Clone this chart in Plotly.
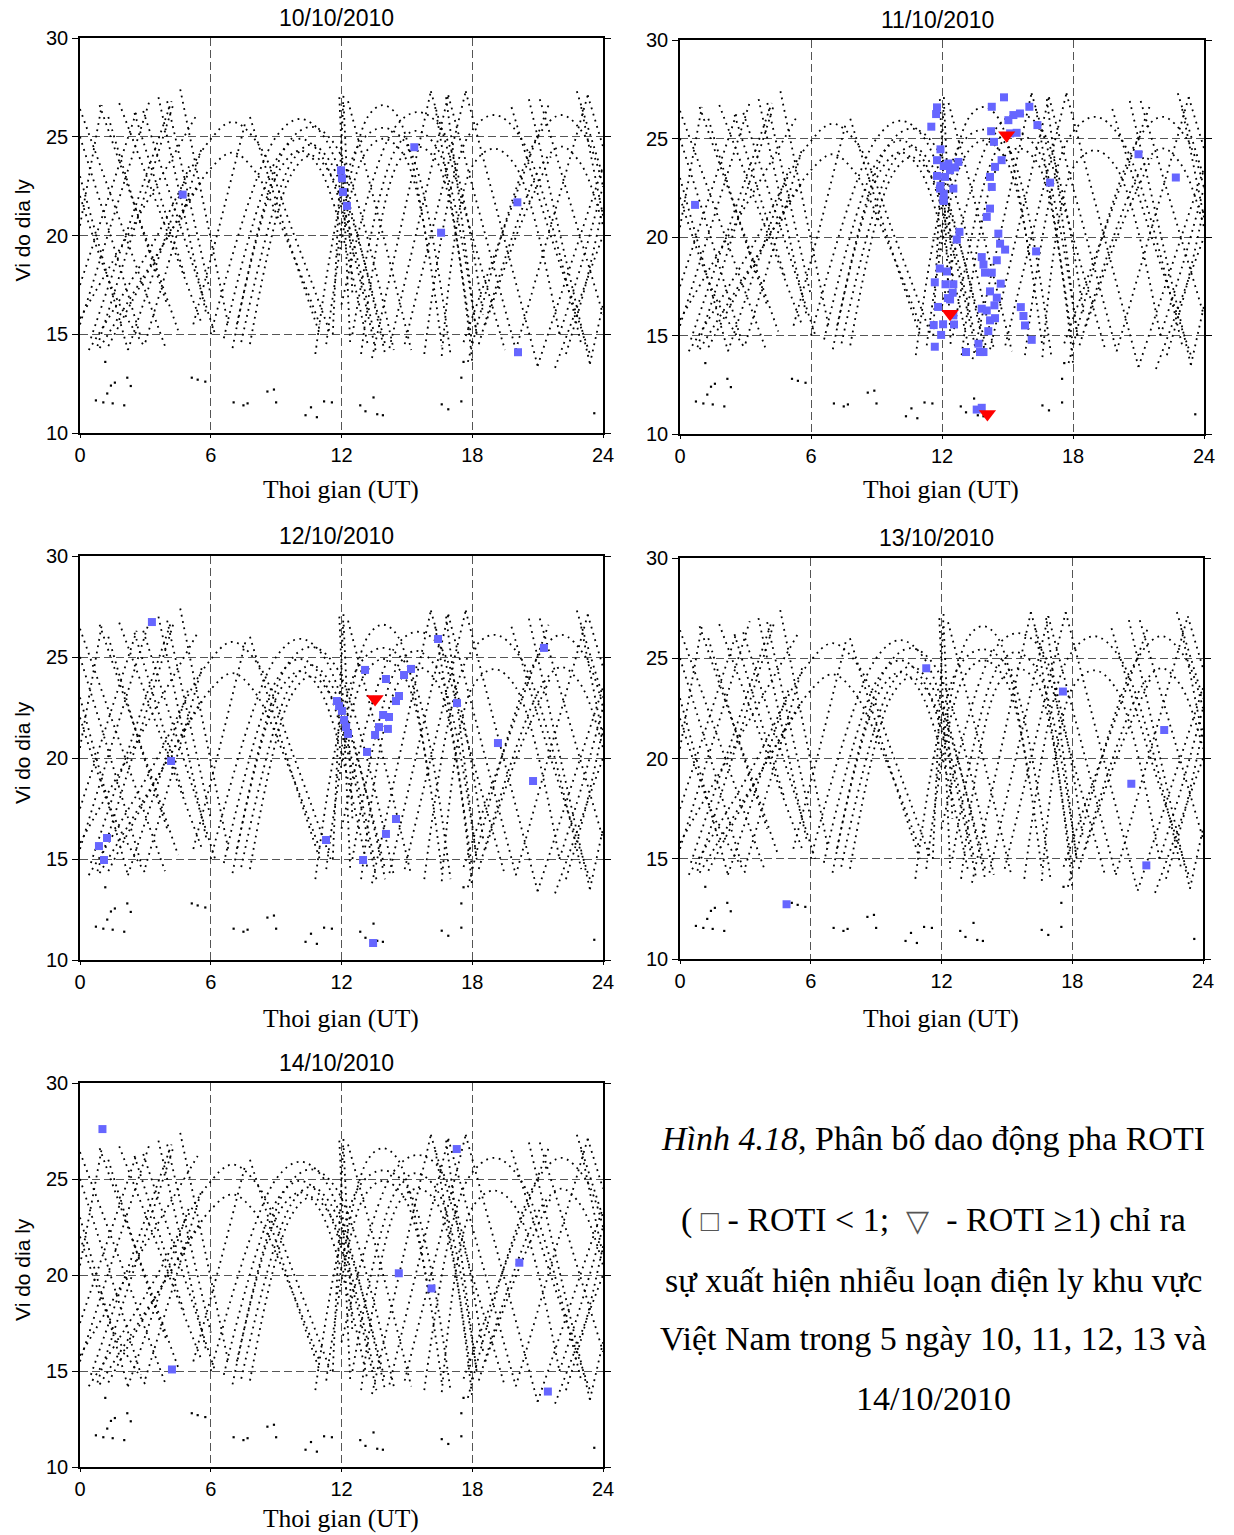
import plotly.graph_objects as go

# ---------------- data ----------------
DAYS = ["10/10/2010", "11/10/2010", "12/10/2010", "13/10/2010", "14/10/2010"]
HOUR_TICKS = [0, 6, 12, 18, 24]
TOP_TICKS = [6, 12, 18]
LAT_TICKS = [10, 15, 20, 25, 30]

# satellite pierce-point tracks (control points), same geometry every day
TRACK_T = [
    [0.4, 3.2, 5.8, 7.0, 8.2, 9.8, 11.5],
    [1.3, 3.8, 6.0, 7.0, 8.0, 9.6, 11.0],
    [6.0, 9.0, 10.1, 11.2, 14.0],
    [7.0, 9.5, 10.6, 11.7, 14.4],
    [6.6, 9.1, 10.1, 11.1, 13.6],
    [7.4, 9.7, 10.6, 11.5, 14.0],
    [7.2, 9.2, 10.1, 11.0, 13.2],
    [7.8, 9.7, 10.6, 11.5, 13.5],
    [11.8, 13.2, 13.9, 14.6, 16.0],
    [10.8, 12.8, 13.9, 15.0, 17.0],
    [11.3, 13.0, 13.9, 14.9, 16.6],
    [12.0, 14.4, 15.5, 16.6, 18.5],
    [12.5, 14.5, 15.4, 16.4, 18.2],
    [12.9, 14.6, 15.5, 16.4, 18.0],
    [15.8, 17.8, 19.0, 20.2, 23.0],
    [16.6, 18.0, 19.0, 20.0, 22.0],
    [17.8, 21.0, 22.1, 23.2, 24.0],
    [18.3, 21.2, 22.1, 23.0, 24.0],
    [0.0, 1.0], [0.0, 2.6], [0.8, 4.3], [2.2, 5.0], [0.0, 3.9], [0.9, 4.5],
    [1.8, 5.6], [0.0, 2.2], [2.5, 4.8], [3.6, 5.8], [4.0, 6.0], [4.6, 6.8],
    [0.0, 3.2],
    [0.0, 2.6, 5.4], [0.9, 3.4, 5.6], [1.3, 2.8, 4.0], [0.0, 1.6, 3.0],
    [0.0, 1.4, 2.8], [0.5, 2.4, 4.2], [3.0, 4.3, 5.6], [2.9, 4.6, 6.2],
    [7.8, 9.5, 11.0], [5.2, 6.4, 7.6],
    [11.6, 12.1], [11.9, 12.4], [12.1, 12.5],
    [13.4, 16.1], [14.2, 16.9], [14.9, 17.7], [12.3, 13.8, 15.2],
    [16.3, 17.2, 18.0], [16.8, 17.5, 18.2],
    [20.0, 23.3], [21.0, 24.0], [21.8, 24.0], [20.6, 23.4], [21.1, 24.0],
    [22.8, 24.0], [23.4, 24.0], [17.7, 21.0], [16.9, 20.0], [16.1, 19.5],
    [17.6, 19.5, 21.5], [18.6, 20.2, 21.6], [22.3, 23.2, 24.0], [23.0, 24.0],
    [19.8, 21.6, 23.4], [22.0, 23.0, 24.0], [23.3, 24.0],
]
TRACK_LAT = [
    [14.2, 19.3, 24.6, 25.75, 24.6, 20.1, 15.0],
    [14.4, 19.5, 23.4, 24.2, 23.3, 19.5, 15.5],
    [15.0, 25.0, 25.9, 25.0, 14.0],
    [14.3, 24.6, 25.5, 24.6, 14.2],
    [14.8, 24.0, 24.9, 24.0, 14.0],
    [14.6, 23.7, 24.6, 23.7, 14.5],
    [15.5, 23.4, 24.3, 23.4, 14.5],
    [14.5, 23.1, 24.05, 23.1, 15.0],
    [19.0, 26.0, 26.6, 26.0, 19.0],
    [14.0, 24.6, 25.45, 24.6, 14.0],
    [14.5, 24.0, 24.9, 24.0, 14.4],
    [16.5, 25.4, 26.25, 25.4, 16.0],
    [15.0, 24.4, 25.3, 24.4, 15.0],
    [14.0, 23.7, 24.5, 23.7, 13.6],
    [14.0, 25.0, 26.1, 25.0, 14.5],
    [13.9, 23.5, 24.4, 23.5, 15.0],
    [13.6, 25.0, 26.1, 25.0, 22.5],
    [14.5, 23.6, 24.5, 23.6, 20.5],
    [20.5, 26.6], [17.5, 26.3], [14.4, 26.7], [14.2, 23.5], [26.4, 14.4], [26.6, 15.2],
    [26.7, 15.5], [23.0, 14.2], [26.2, 18.0], [27.0, 16.0], [26.8, 17.0], [27.4, 15.5],
    [15.5, 26.85],
    [15.8, 20.8, 26.2], [14.3, 18.8, 22.8], [26.0, 20.5, 16.5], [22.0, 17.0, 14.3],
    [25.0, 20.0, 14.8], [14.8, 21.0, 26.8], [14.6, 19.5, 24.5], [26.3, 20.5, 15.0],
    [26.0, 20.0, 15.0], [15.5, 20.5, 25.8],
    [15.0, 27.3], [27.0, 14.5], [26.6, 17.0],
    [13.8, 27.3], [14.3, 27.1], [14.5, 27.3], [26.8, 20.5, 14.2],
    [26.5, 20.5, 14.5], [27.0, 21.0, 15.0],
    [14.2, 27.1], [13.4, 23.5], [13.3, 20.0], [26.9, 13.5], [26.9, 16.0],
    [27.3, 23.0], [13.5, 16.5], [27.3, 13.4], [27.1, 14.2], [27.3, 14.2],
    [14.6, 20.5, 26.6], [15.5, 20.5, 24.0], [14.0, 17.5, 21.5], [26.5, 21.0],
    [26.5, 20.0, 14.0], [15.0, 18.5, 22.5], [27.1, 24.5],
]

# isolated low-latitude dots
FRAG_T = [0.73, 1.07, 1.42, 1.5, 2.03, 2.17, 1.16, 5.4, 5.75, 7.05, 7.5, 8.6, 8.9, 9.0,
          10.35, 10.6, 10.87, 11.2, 11.56, 12.86, 13.1, 13.47, 13.64, 13.9, 16.6, 16.9,
          17.5, 17.5, 17.6, 1.6, 1.25, 2.33, 5.13, 7.69, 23.6]
FRAG_LAT = [11.65, 11.55, 12.4, 11.5, 11.4, 12.8, 13.6, 12.7, 12.6, 11.55, 11.4, 12.1, 12.2, 11.55,
            10.9, 11.3, 10.8, 11.6, 11.55, 11.4, 11.1, 11.8, 10.95, 10.9, 11.45, 11.2,
            12.8, 11.6, 13.6, 12.55, 12.0, 12.38, 12.8, 11.5, 11.0]

# ROTI < 1 (squares) and ROTI >= 1 (triangles), per day
SQ_T_10 = [4.71, 11.98, 12.02, 12.07, 12.25, 15.34, 16.57, 20.07, 20.1]
SQ_LAT_10 = [22.07, 23.3, 22.9, 22.2, 21.5, 24.47, 20.14, 21.68, 14.09]
TR_T_10, TR_LAT_10 = [], []

SQ_T_11 = [0.69, 11.77, 11.73, 11.51, 11.93, 11.77, 12.08, 11.77, 11.93, 12.08, 12.08, 11.9, 12.23,
           11.67, 12.16, 12.27, 11.82, 11.62, 12.05, 11.96, 11.67, 12.29, 12.75, 12.6, 12.37, 12.14,
           12.52, 11.91, 12.06, 14.28, 14.84, 16.0, 16.37, 15.27, 15.57, 15.04, 15.12, 15.42, 14.25,
           14.38, 14.73, 14.43, 14.2, 14.28, 16.95, 14.2, 14.05, 12.8, 12.68, 14.58, 14.66, 14.89,
           16.31, 13.82, 13.9, 14.51, 13.97, 14.28, 14.69, 12.52, 12.49, 14.2, 14.51, 12.37, 13.82,
           14.05, 14.4, 14.43, 14.2, 14.12, 12.52, 12.55, 15.61, 15.73, 15.8, 16.11, 13.67, 13.74,
           13.1, 13.9, 13.59, 13.82, 21.0, 22.71]
SQ_LAT_11 = [21.63, 26.58, 26.24, 25.6, 24.45, 23.9, 23.6, 23.1, 22.6, 22.2, 21.83, 18.4, 18.25,
             17.7, 17.6, 16.9, 16.45, 15.53, 15.57, 15.03, 14.43, 23.73, 23.81, 23.53, 23.39, 23.05,
             22.46, 22.46, 21.87, 26.61, 27.09, 26.61, 25.68, 26.19, 26.27, 25.93, 25.26, 25.29, 25.37,
             24.83, 23.9, 23.56, 23.05, 22.54, 22.76, 21.44, 21.02, 20.26, 19.87, 20.17, 19.66, 19.36,
             19.27, 18.98, 18.6, 18.82, 18.19, 18.19, 17.63, 17.6, 17.17, 17.24, 16.92, 16.83, 16.36,
             16.27, 16.53, 15.88, 15.77, 15.22, 16.02, 15.56, 16.44, 15.99, 15.51, 14.78, 14.58, 14.16,
             14.16, 14.16, 11.24, 11.33, 24.2, 23.02]
TR_T_11 = [12.37, 14.96, 14.08]
TR_LAT_11 = [16.11, 25.17, 11.02]

SQ_T_12 = [3.30, 0.87, 1.24, 1.10, 4.18, 11.29, 11.79, 11.89, 12.02, 12.12, 12.21, 12.3, 13.08,
           13.17, 12.99, 13.45, 13.54, 13.72, 13.91, 14.04, 14.18, 14.13, 14.04, 14.5, 14.5, 14.64,
           14.87, 15.19, 16.43, 17.3, 19.18, 20.79, 21.29]
SQ_LAT_12 = [26.73, 15.64, 16.04, 14.95, 19.85, 15.94, 22.82, 22.57, 22.33, 21.88, 21.53, 21.19, 24.36,
             20.3, 14.95, 10.84, 21.14, 21.53, 22.13, 23.91, 22.03, 21.44, 16.24, 16.98, 22.82, 23.07,
             24.11, 24.41, 25.89, 22.72, 20.74, 18.86, 25.45]
TR_T_12 = [13.54]
TR_LAT_12 = [22.92]

SQ_T_13 = [4.89, 11.3, 17.57, 20.71, 21.4, 22.22]
SQ_LAT_13 = [12.73, 24.5, 23.34, 18.74, 14.67, 21.42]
TR_T_13, TR_LAT_13 = [], []

SQ_T_14 = [1.03, 4.22, 14.63, 16.13, 17.29, 20.16, 21.47]
SQ_LAT_14 = [27.6, 15.08, 20.09, 19.3, 26.56, 20.64, 13.93]
TR_T_14, TR_LAT_14 = [], []

SQUARES = [(SQ_T_10, SQ_LAT_10), (SQ_T_11, SQ_LAT_11), (SQ_T_12, SQ_LAT_12),
           (SQ_T_13, SQ_LAT_13), (SQ_T_14, SQ_LAT_14)]
TRIANGLES = [(TR_T_10, TR_LAT_10), (TR_T_11, TR_LAT_11), (TR_T_12, TR_LAT_12),
             (TR_T_13, TR_LAT_13), (TR_T_14, TR_LAT_14)]

CAPTION = [
    "<i>Hình 4.18</i>, Phân bố dao động pha ROTI",
    "( <span style='font-size:30px;color:#555'>□</span> - ROTI &lt; 1;  "
    "<span style='font-size:30px;color:#555'>▽</span>  - ROTI ≥1) chỉ ra",
    "sự xuất hiện nhiễu loạn điện ly khu vực",
    "Việt Nam trong 5 ngày 10, 11, 12, 13 và",
    "14/10/2010",
]

# ---------------- layout geometry ----------------
W, H = 1234, 1535
# pixel boxes of the five plot areas: (left, right, top, bottom)
BOXES = [(80, 603, 38, 433), (680, 1204, 40, 434), (80, 603, 556, 960),
         (680, 1203, 558, 959), (80, 603, 1083, 1467)]
XTITLE_Y = [489, 490, 1018, 1018, 1518]
SHOW_YTITLE = [True, False, True, False, True]

SANS = "Liberation Sans, Arial, sans-serif"
SERIF = "Liberation Serif, Times New Roman, serif"

fig = go.Figure()

# join tracks into one line per panel with gaps
line_x, line_y = [], []
for tt, ll in zip(TRACK_T, TRACK_LAT):
    line_x += tt + [None]
    line_y += ll + [None]

annotations = []
for i, day in enumerate(DAYS):
    n = i + 1
    xa = "x" if n == 1 else f"x{n}"
    ya = "y" if n == 1 else f"y{n}"
    fig.add_trace(go.Scatter(x=line_x, y=line_y, mode="lines", xaxis=xa, yaxis=ya,
                             line=dict(color="black", width=1.8, dash="1.8px,4.6px", shape="spline",
                                       smoothing=1.0),
                             hoverinfo="skip", showlegend=False, connectgaps=False))
    fig.add_trace(go.Scatter(x=FRAG_T, y=FRAG_LAT, mode="markers", xaxis=xa, yaxis=ya,
                             marker=dict(symbol="square", size=2.2, color="black"),
                             hoverinfo="skip", showlegend=False))
    sx, sy = SQUARES[i]
    fig.add_trace(go.Scatter(x=sx, y=sy, mode="markers", xaxis=xa, yaxis=ya,
                             marker=dict(symbol="square", size=8, color="#6666ff",
                                         line=dict(width=0)),
                             showlegend=False))
    tx, ty = TRIANGLES[i]
    fig.add_trace(go.Scatter(x=tx, y=ty, mode="markers", xaxis=xa, yaxis=ya,
                             marker=dict(symbol="triangle-down", size=15, color="#ff0000",
                                         line=dict(width=0)),
                             showlegend=False))

    l, r, t, b = BOXES[i]
    xdom = [l / W, r / W]
    ydom = [1 - b / H, 1 - t / H]
    axis_common = dict(showline=True, linecolor="black", linewidth=1.5, mirror=True,
                       showgrid=True, gridcolor="#555555", gridwidth=1, griddash="8px,4px",
                       zeroline=False, ticks="outside", ticklen=6, tickcolor="black",
                       tickwidth=1.2, automargin=False,
                       tickfont=dict(family=SANS, size=20, color="black"))
    xc = dict(axis_common)
    xc["ticklen"] = 3
    fig.layout[f"xaxis{'' if n == 1 else n}"] = dict(
        domain=xdom, anchor=ya, range=[0, 24], tickvals=HOUR_TICKS, **xc)
    yc = dict(axis_common)
    yc["mirror"] = "ticks"
    fig.layout[f"yaxis{'' if n == 1 else n}"] = dict(
        domain=ydom, anchor=xa, range=[10, 30], tickvals=LAT_TICKS, **yc)
    # top axis with inward ticks
    fig.layout[f"xaxis{n + 5}"] = dict(
        overlaying=xa, anchor=ya, side="top", range=[0, 24], tickvals=TOP_TICKS,
        ticks="inside", ticklen=7, tickcolor="black", tickwidth=1.2, automargin=False,
        showticklabels=False, showgrid=False, showline=False, zeroline=False)

    cx = (l + r) / 2
    annotations.append(dict(text=day, x=(cx - 5) / W, y=1 - (t - 20) / H, xref="paper", yref="paper",
                            showarrow=False, font=dict(family=SANS, size=23, color="black"),
                            xanchor="center", yanchor="middle"))
    annotations.append(dict(text="Thoi gian (UT)", x=(cx - 1) / W, y=1 - XTITLE_Y[i] / H,
                            xref="paper", yref="paper", showarrow=False,
                            font=dict(family=SERIF, size=25.5, color="black"),
                            xanchor="center", yanchor="middle"))
    if SHOW_YTITLE[i]:
        annotations.append(dict(text="Vi do dia ly", x=22 / W, y=1 - ((t + b) / 2 - 5) / H,
                                xref="paper", yref="paper", showarrow=False, textangle=-90,
                                font=dict(family=SANS, size=21, color="black"),
                                xanchor="center", yanchor="middle"))

CAP_Y = [1138, 1220, 1280, 1338, 1398]
for txt, yy in zip(CAPTION, CAP_Y):
    annotations.append(dict(text=txt, x=933 / W, y=1 - yy / H, xref="paper", yref="paper",
                            showarrow=False, font=dict(family=SERIF, size=34, color="black"),
                            xanchor="center", yanchor="middle"))

fig.update_layout(width=W, height=H, margin=dict(l=0, r=0, t=0, b=0, pad=0),
                  paper_bgcolor="white", plot_bgcolor="white",
                  showlegend=False, annotations=annotations)

fig.write_html("out.html", post_script="document.body.style.margin='0px';")
